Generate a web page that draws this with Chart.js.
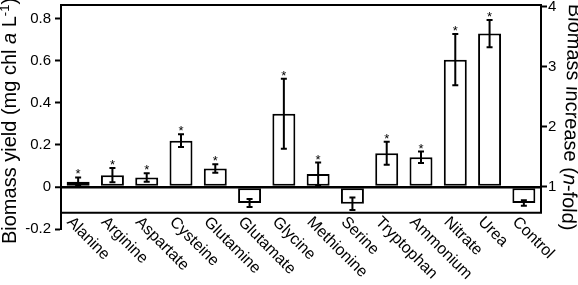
<!DOCTYPE html>
<html>
<head>
<meta charset="utf-8">
<script src="https://cdn.jsdelivr.net/npm/chart.js@4"></script>
<style>
  body { margin: 0; background: #fff; }
  #wrap { width: 578px; height: 285px; }
</style>
</head>
<body>
<div id="wrap"><canvas id="biomass"></canvas></div>
<script>
const categories = ['Alanine', 'Arginine', 'Aspartate', 'Cysteine', 'Glutamine', 'Glutamate', 'Glycine',
  'Methionine', 'Serine', 'Tryptophan', 'Ammonium', 'Nitrate', 'Urea', 'Control'];
const yieldMean = [0.025, 0.056, 0.045, 0.220, 0.088, -0.076, 0.348, 0.062, -0.080, 0.160, 0.141, 0.605, 0.729, -0.076];
const yieldErr = [0.020, 0.034, 0.020, 0.030, 0.020, 0.019, 0.166, 0.054, 0.030, 0.055, 0.027, 0.122, 0.065, 0.013];
const significant = [true, true, true, true, true, false, true, true, false, true, true, true, true, false];
const leftTicks = [-0.2, 0, 0.2, 0.4, 0.6, 0.8];
const rightTicks = [1, 2, 3, 4];

const yMin = -0.2, yMax = 0.865, frameBottom = -0.123;
// right axis is the left one rescaled: fold = 1 + 3.5 * yield
const toFold = v => 1 + 3.5 * v;

const FONT = '"Liberation Sans", Arial, Helvetica, sans-serif';
Chart.defaults.font.family = FONT;
Chart.defaults.color = '#000';

function drawRich(ctx, pieces, x, y, angle) {
  ctx.save();
  ctx.translate(x, y);
  ctx.rotate(angle);
  let total = 0;
  pieces.forEach(p => { ctx.font = p.font; total += ctx.measureText(p.text).width; });
  let cx = -total / 2;
  ctx.textAlign = 'left';
  ctx.textBaseline = 'alphabetic';
  pieces.forEach(p => {
    ctx.font = p.font;
    ctx.fillText(p.text, cx, p.dy || 0);
    cx += ctx.measureText(p.text).width;
  });
  ctx.restore();
}

const decorations = {
  id: 'decorations',
  afterDatasetsDraw(chart) {
    const {ctx, chartArea, scales: {x, y}} = chart;
    const bottom = y.getPixelForValue(frameBottom);
    ctx.save();
    ctx.strokeStyle = '#000';
    ctx.fillStyle = '#000';
    ctx.lineWidth = 2;

    // frame: top, right and lower line
    ctx.beginPath();
    ctx.moveTo(chartArea.left, chartArea.top);
    ctx.lineTo(chartArea.right, chartArea.top);
    ctx.lineTo(chartArea.right, bottom);
    ctx.lineTo(chartArea.left, bottom);
    ctx.stroke();

    // error bars and stars
    yieldMean.forEach((m, i) => {
      const px = x.getPixelForValue(i);
      const hi = y.getPixelForValue(m + yieldErr[i]);
      const lo = y.getPixelForValue(m - yieldErr[i]);
      ctx.beginPath();
      ctx.moveTo(px, hi); ctx.lineTo(px, lo);
      ctx.moveTo(px - 3, hi); ctx.lineTo(px + 3, hi);
      ctx.moveTo(px - 3, lo); ctx.lineTo(px + 3, lo);
      ctx.stroke();
      if (significant[i]) {
        ctx.font = '13px ' + FONT;
        ctx.textAlign = 'center';
        ctx.textBaseline = 'alphabetic';
        ctx.fillText('*', px, hi + 1);
      }
    });

    // category labels, rotated downwards
    ctx.font = '16px ' + FONT;
    ctx.textAlign = 'left';
    ctx.textBaseline = 'alphabetic';
    categories.forEach((c, i) => {
      const px = x.getPixelForValue(i);
      ctx.save();
      ctx.translate(px - 12, bottom + 10);
      ctx.rotate(Math.PI / 4);
      ctx.fillText(c, 0, 0);
      ctx.restore();
    });
    ctx.restore();

    // axis titles with italic parts (the right one is slightly skewed in the source)
    const f = '20px ' + FONT, fi = 'italic 20px ' + FONT, fs = '13px ' + FONT;
    drawRich(ctx, [
      {text: 'Biomass yield (mg chl ', font: f},
      {text: 'a', font: fi},
      {text: ' L', font: f},
      {text: '-1', font: fs, dy: -7},
      {text: ')', font: f}
    ], 16, 121, -Math.PI / 2);
    drawRich(ctx, [
      {text: 'Biomass increase (', font: f},
      {text: 'n', font: fi},
      {text: '-fold)', font: f}
    ], 565.5, 117, Math.PI / 2 + 0.031);
  }
};

new Chart(document.getElementById('biomass'), {
  type: 'bar',
  data: {
    labels: categories,
    datasets: [{
      data: yieldMean,
      backgroundColor: '#fff',
      borderColor: '#000',
      borderWidth: 2,
      borderSkipped: false,
      barPercentage: 0.67,
      categoryPercentage: 1
    }]
  },
  options: {
    responsive: true,
    maintainAspectRatio: false,
    animation: false,
    layout: {padding: {top: 5, bottom: 56, left: 0, right: 0}},
    plugins: {legend: {display: false}, tooltip: {enabled: false}},
    scales: {
      x: {display: false},
      y: {
        min: yMin,
        max: yMax,
        afterBuildTicks: s => { s.ticks = leftTicks.map(v => ({value: v})); },
        afterFit: s => { s.width = 61; s.paddingTop = 0; s.paddingBottom = 0; },
        ticks: {font: {size: 15}, padding: 4, callback: v => v === 0 ? '0' : v.toFixed(1)},
        grid: {
          color: c => c.tick && c.tick.value === 0 ? '#000' : 'transparent',
          lineWidth: c => c.tick && c.tick.value === 0 ? 2.5 : 1,
          tickColor: '#000',
          tickWidth: 2,
          tickLength: 6
        },
        border: {display: true, color: '#000', width: 2}
      },
      y2: {
        position: 'right',
        min: toFold(yMin),
        max: toFold(yMax),
        afterBuildTicks: s => { s.ticks = rightTicks.map(v => ({value: v})); },
        afterFit: s => { s.width = 37; s.paddingTop = 0; s.paddingBottom = 0; },
        ticks: {font: {size: 15}, padding: 1, callback: v => String(v)},
        grid: {drawOnChartArea: false, color: '#000', tickColor: '#000', tickWidth: 2, tickLength: 6},
        border: {display: false}
      }
    }
  },
  plugins: [decorations]
});
</script>
</body>
</html>
